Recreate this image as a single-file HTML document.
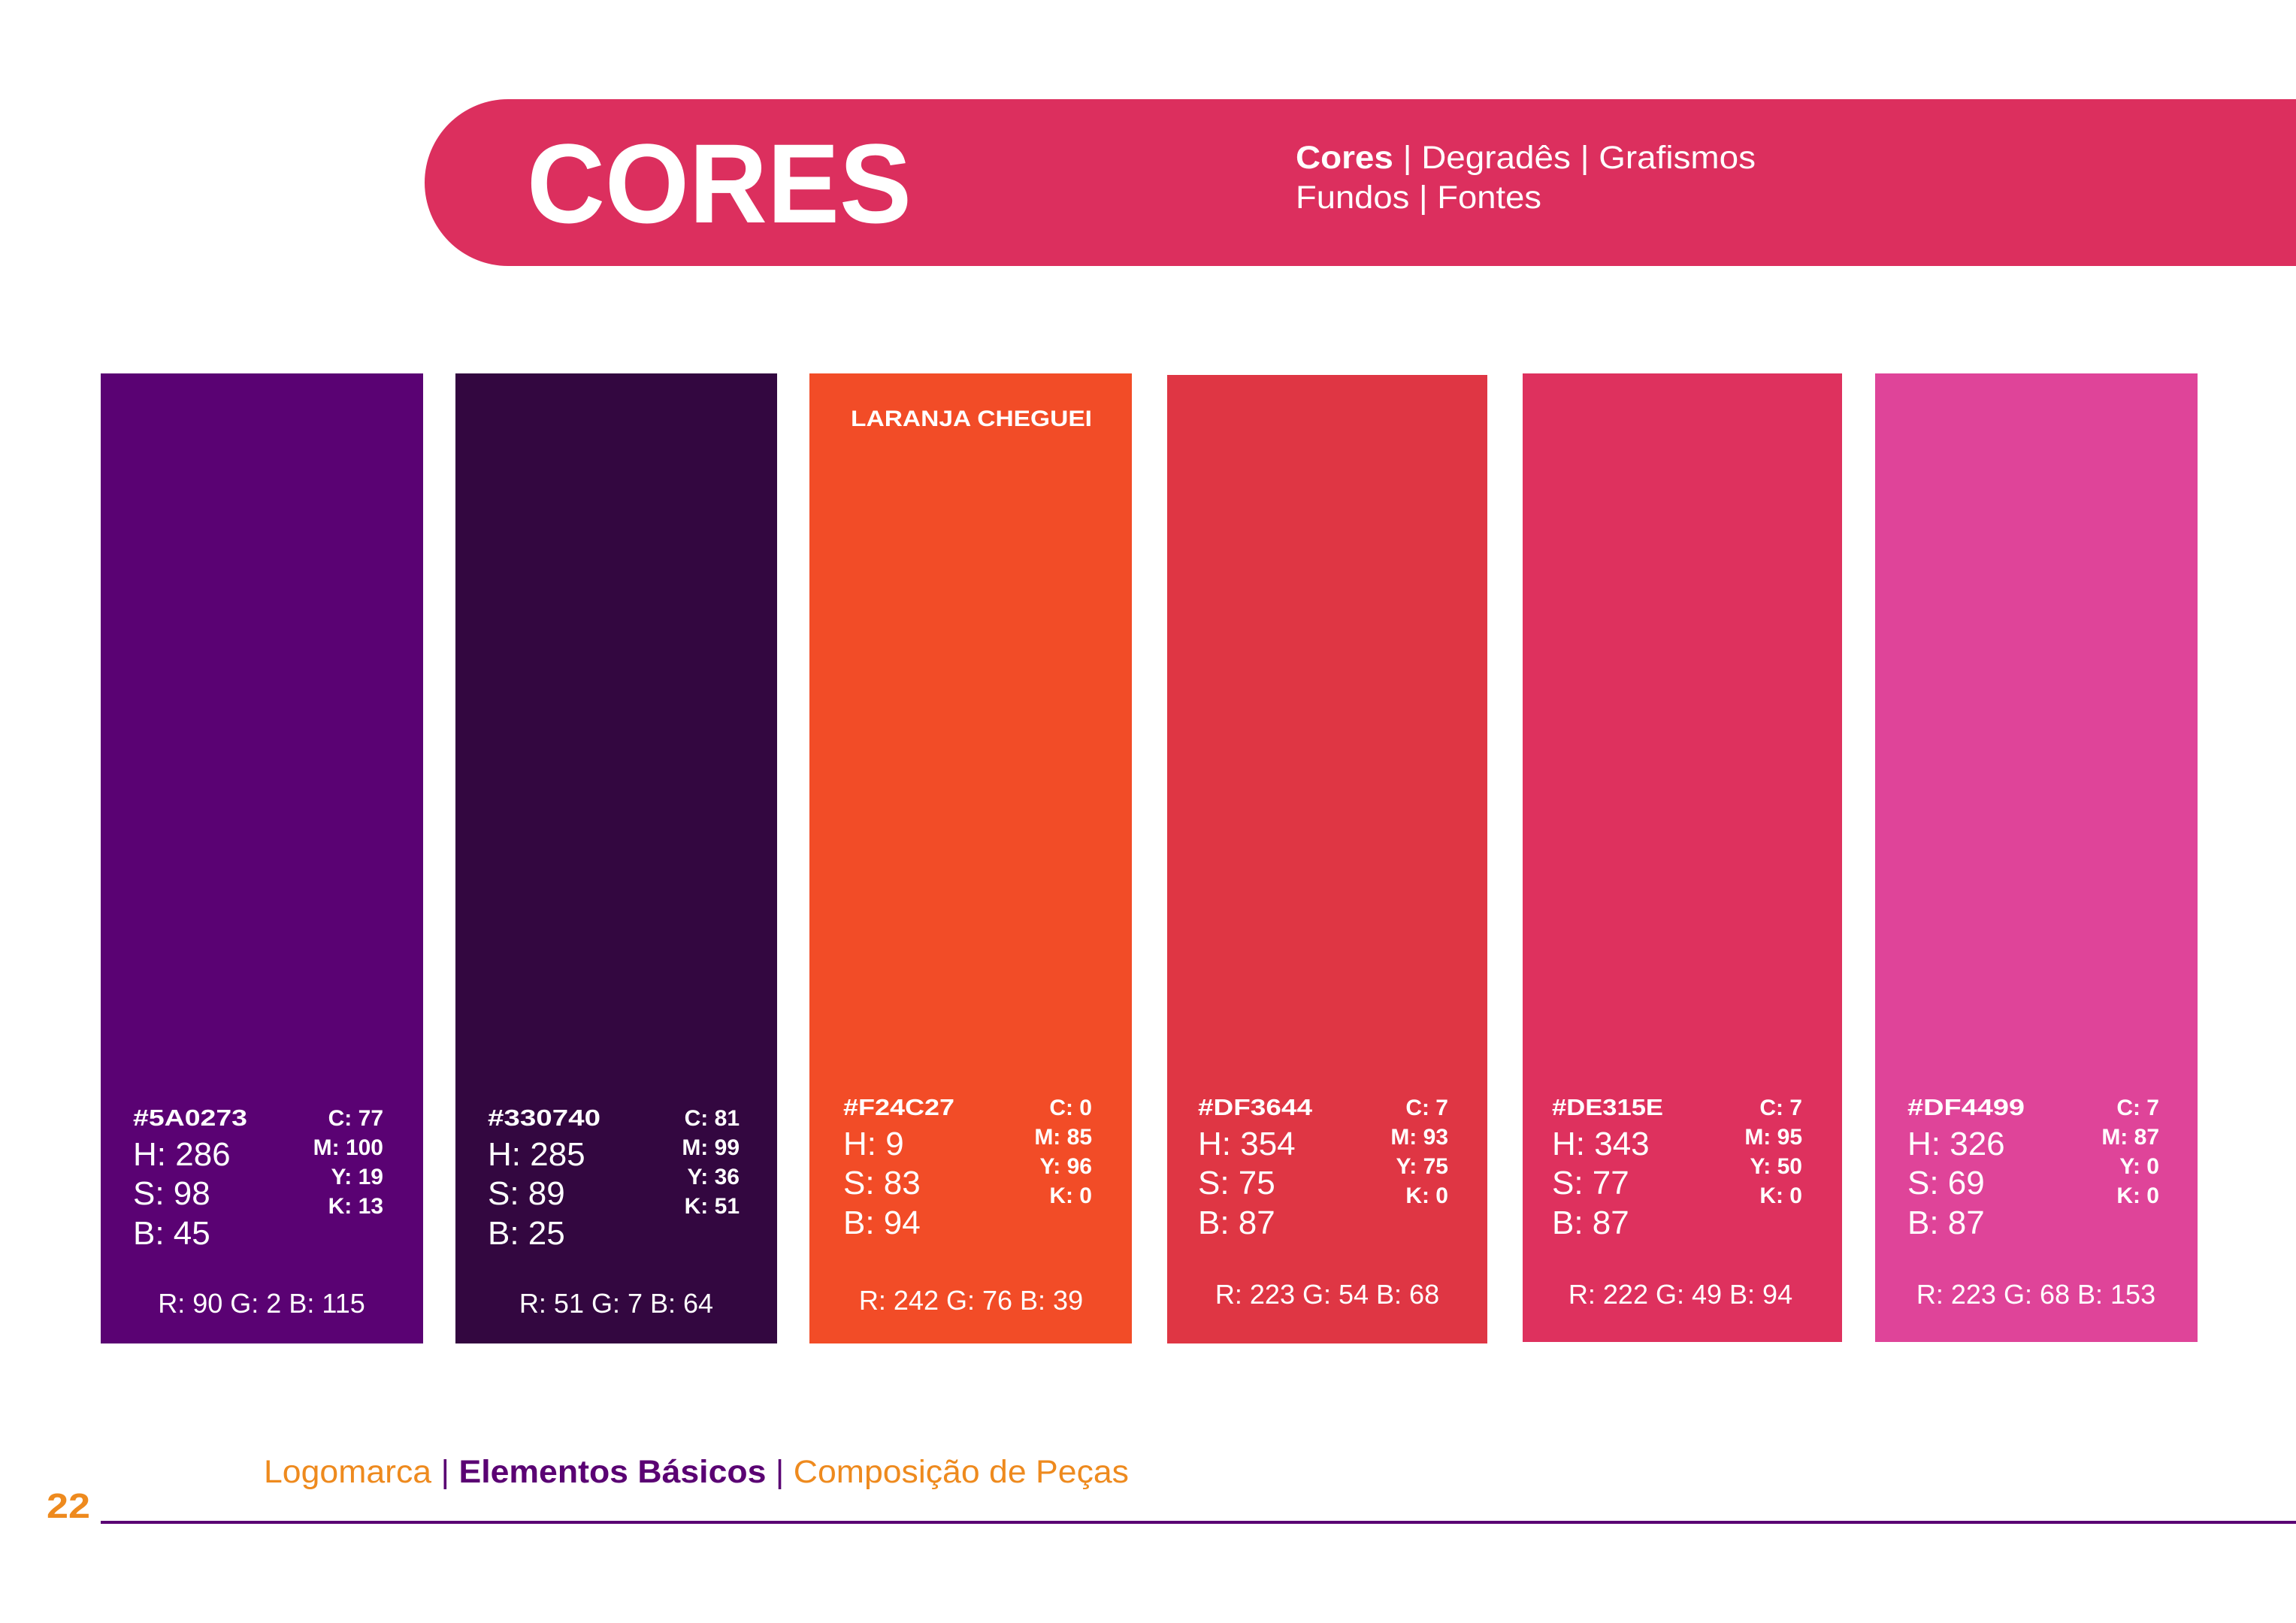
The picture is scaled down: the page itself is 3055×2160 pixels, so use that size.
<!DOCTYPE html>
<html><head><meta charset="utf-8"><style>
html,body{margin:0;padding:0;background:#fff;}
svg{display:block;font-family:"Liberation Sans",sans-serif;}
</style></head><body>
<svg width="3055" height="2160" viewBox="0 0 3055 2160" xmlns="http://www.w3.org/2000/svg">
<rect width="3055" height="2160" fill="#fff"/>
<path d="M676 132 H3055 V354 H676 A111 111 0 0 1 676 132 Z" fill="#DC2F5E"/>
<text x="701" y="296" font-size="150" font-weight="bold" fill="#fff" textLength="512" lengthAdjust="spacingAndGlyphs">CORES</text>
<text x="1724" y="224" font-size="43" fill="#fff" textLength="612" lengthAdjust="spacingAndGlyphs"><tspan font-weight="bold">Cores</tspan> | Degradês | Grafismos</text>
<text x="1724" y="277" font-size="43" fill="#fff" textLength="327" lengthAdjust="spacingAndGlyphs">Fundos | Fontes</text>
<rect x="134" y="497" width="429" height="1291" fill="#5A0273"/>
<rect x="606" y="497" width="428" height="1291" fill="#330740"/>
<rect x="1077" y="497" width="429" height="1291" fill="#F24C27"/>
<rect x="1553" y="499" width="426" height="1289" fill="#DF3644"/>
<rect x="2026" y="497" width="425" height="1289" fill="#DE315E"/>
<rect x="2495" y="497" width="429" height="1289" fill="#DF4499"/>
<text x="1132" y="567" font-size="30" font-weight="bold" fill="#fff" textLength="321" lengthAdjust="spacingAndGlyphs">LARANJA CHEGUEI</text>
<g fill="#fff">
<text x="177" y="1498" font-size="31" font-weight="bold" textLength="152" lengthAdjust="spacingAndGlyphs">#5A0273</text>
<text x="177" y="1551" font-size="44">H: 286</text>
<text x="177" y="1603" font-size="44">S: 98</text>
<text x="177" y="1656" font-size="44">B: 45</text>
<g font-size="30" font-weight="bold" text-anchor="end">
<text x="510" y="1498">C: 77</text><text x="510" y="1537">M: 100</text><text x="510" y="1576">Y: 19</text><text x="510" y="1615">K: 13</text></g>
<text x="348" y="1747" font-size="36" text-anchor="middle">R: 90 G: 2 B: 115</text>
<text x="649" y="1498" font-size="31" font-weight="bold" textLength="150" lengthAdjust="spacingAndGlyphs">#330740</text>
<text x="649" y="1551" font-size="44">H: 285</text>
<text x="649" y="1603" font-size="44">S: 89</text>
<text x="649" y="1656" font-size="44">B: 25</text>
<g font-size="30" font-weight="bold" text-anchor="end">
<text x="984" y="1498">C: 81</text><text x="984" y="1537">M: 99</text><text x="984" y="1576">Y: 36</text><text x="984" y="1615">K: 51</text></g>
<text x="820" y="1747" font-size="36" text-anchor="middle">R: 51 G: 7 B: 64</text>
<text x="1122" y="1484" font-size="31" font-weight="bold" textLength="148" lengthAdjust="spacingAndGlyphs">#F24C27</text>
<text x="1122" y="1537" font-size="44">H: 9</text>
<text x="1122" y="1589" font-size="44">S: 83</text>
<text x="1122" y="1642" font-size="44">B: 94</text>
<g font-size="30" font-weight="bold" text-anchor="end">
<text x="1453" y="1484">C: 0</text><text x="1453" y="1523">M: 85</text><text x="1453" y="1562">Y: 96</text><text x="1453" y="1601">K: 0</text></g>
<text x="1292" y="1743" font-size="36" text-anchor="middle">R: 242 G: 76 B: 39</text>
<text x="1594" y="1484" font-size="31" font-weight="bold" textLength="152" lengthAdjust="spacingAndGlyphs">#DF3644</text>
<text x="1594" y="1537" font-size="44">H: 354</text>
<text x="1594" y="1589" font-size="44">S: 75</text>
<text x="1594" y="1642" font-size="44">B: 87</text>
<g font-size="30" font-weight="bold" text-anchor="end">
<text x="1927" y="1484">C: 7</text><text x="1927" y="1523">M: 93</text><text x="1927" y="1562">Y: 75</text><text x="1927" y="1601">K: 0</text></g>
<text x="1766" y="1735" font-size="36" text-anchor="middle">R: 223 G: 54 B: 68</text>
<text x="2065" y="1484" font-size="31" font-weight="bold" textLength="148" lengthAdjust="spacingAndGlyphs">#DE315E</text>
<text x="2065" y="1537" font-size="44">H: 343</text>
<text x="2065" y="1589" font-size="44">S: 77</text>
<text x="2065" y="1642" font-size="44">B: 87</text>
<g font-size="30" font-weight="bold" text-anchor="end">
<text x="2398" y="1484">C: 7</text><text x="2398" y="1523">M: 95</text><text x="2398" y="1562">Y: 50</text><text x="2398" y="1601">K: 0</text></g>
<text x="2236" y="1735" font-size="36" text-anchor="middle">R: 222 G: 49 B: 94</text>
<text x="2538" y="1484" font-size="31" font-weight="bold" textLength="156" lengthAdjust="spacingAndGlyphs">#DF4499</text>
<text x="2538" y="1537" font-size="44">H: 326</text>
<text x="2538" y="1589" font-size="44">S: 69</text>
<text x="2538" y="1642" font-size="44">B: 87</text>
<g font-size="30" font-weight="bold" text-anchor="end">
<text x="2873" y="1484">C: 7</text><text x="2873" y="1523">M: 87</text><text x="2873" y="1562">Y: 0</text><text x="2873" y="1601">K: 0</text></g>
<text x="2709" y="1735" font-size="36" text-anchor="middle">R: 223 G: 68 B: 153</text>
</g>
<text x="351" y="1973" font-size="43" fill="#EE8A1E" textLength="1151" lengthAdjust="spacingAndGlyphs">Logomarca <tspan fill="#5A0273">| </tspan><tspan fill="#5A0273" font-weight="bold">Elementos Básicos</tspan><tspan fill="#5A0273"> |</tspan> Composição de Peças</text>
<text x="62" y="2020" font-size="46" font-weight="bold" fill="#EE8A1E" textLength="58" lengthAdjust="spacingAndGlyphs">22</text>
<rect x="134" y="2024" width="2921" height="4" fill="#5A0273"/>
</svg>
</body></html>
